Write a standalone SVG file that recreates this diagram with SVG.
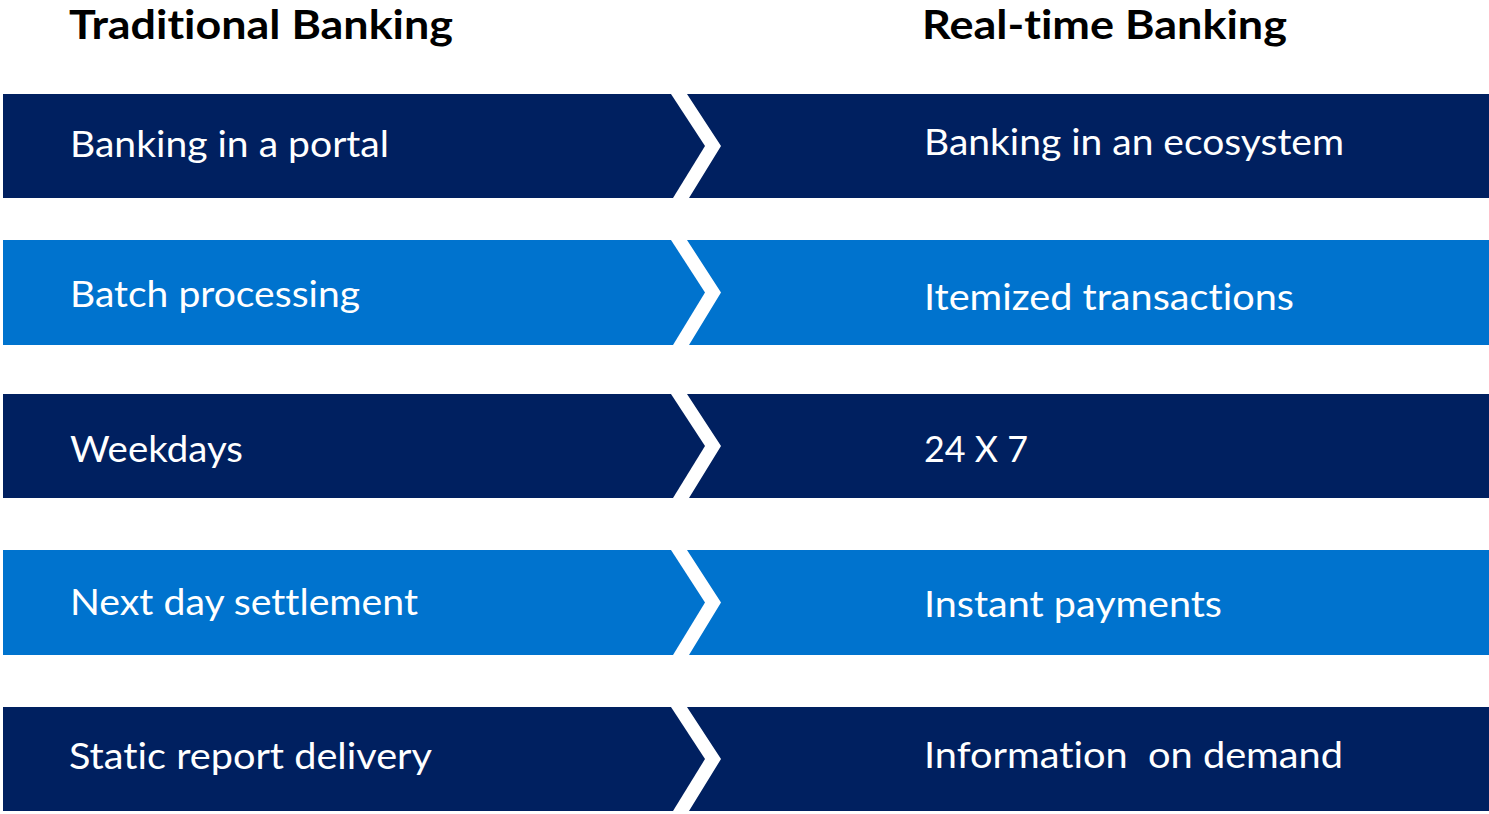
<svg xmlns="http://www.w3.org/2000/svg" width="1489" height="814" viewBox="0 0 1489 814">
<style>
  .dark { fill: #002060; }
  .light { fill: #0073CE; }
  .lbl { font-family: Lato, "Open Sans", "Liberation Sans", sans-serif; font-size: 37px; fill: #FFFFFF; white-space: pre; font-variant-ligatures: none; }
  .ttl { font-family: Lato, "Open Sans", "Liberation Sans", sans-serif; font-size: 41px; font-weight: bold; fill: #000000; font-variant-ligatures: none; }
</style>
<rect x="0" y="0" width="1489" height="814" fill="#FFFFFF"/>
<g id="titles">
  <text id="title-left" class="ttl" x="69" y="39" textLength="384" lengthAdjust="spacingAndGlyphs">Traditional Banking</text>
  <text id="title-right" class="ttl" x="922" y="39" textLength="365" lengthAdjust="spacingAndGlyphs">Real-time Banking</text>
</g>
<g id="connectors"></g>
<g id="row1-left">
  <polygon class="dark" points="3,94 671,94 705,146 673,198 3,198"/>
  <text class="lbl" x="70" y="157" textLength="319" lengthAdjust="spacingAndGlyphs">Banking in a portal</text>
</g>
<g id="row1-right">
  <polygon class="dark" points="687,94 1489,94 1489,198 689,198 721,146"/>
  <text class="lbl" x="924" y="155" textLength="420" lengthAdjust="spacingAndGlyphs">Banking in an ecosystem</text>
</g>
<g id="row2-left">
  <polygon class="light" points="3,240 671,240 705,292.5 673,345 3,345"/>
  <text class="lbl" x="70" y="307" textLength="290" lengthAdjust="spacingAndGlyphs">Batch processing</text>
</g>
<g id="row2-right">
  <polygon class="light" points="687,240 1489,240 1489,345 689,345 721,292.5"/>
  <text class="lbl" x="924" y="310" textLength="370" lengthAdjust="spacingAndGlyphs">Itemized transactions</text>
</g>
<g id="row3-left">
  <polygon class="dark" points="3,394 671,394 705,446 673,498 3,498"/>
  <text class="lbl" x="70" y="462" textLength="173" lengthAdjust="spacingAndGlyphs">Weekdays</text>
</g>
<g id="row3-right">
  <polygon class="dark" points="687,394 1489,394 1489,498 689,498 721,446"/>
  <text class="lbl" x="924" y="462" textLength="104" lengthAdjust="spacingAndGlyphs">24 X 7</text>
</g>
<g id="row4-left">
  <polygon class="light" points="3,550 671,550 705,602.5 673,655 3,655"/>
  <text class="lbl" x="70" y="615" textLength="348" lengthAdjust="spacingAndGlyphs">Next day settlement</text>
</g>
<g id="row4-right">
  <polygon class="light" points="687,550 1489,550 1489,655 689,655 721,602.5"/>
  <text class="lbl" x="924" y="617" textLength="298" lengthAdjust="spacingAndGlyphs">Instant payments</text>
</g>
<g id="row5-left">
  <polygon class="dark" points="3,707 671,707 705,759 673,811 3,811"/>
  <text class="lbl" x="69" y="769" textLength="363" lengthAdjust="spacingAndGlyphs">Static report delivery</text>
</g>
<g id="row5-right">
  <polygon class="dark" points="687,707 1489,707 1489,811 689,811 721,759"/>
  <text class="lbl" x="924" y="768" textLength="419" lengthAdjust="spacingAndGlyphs">Information  on demand</text>
</g>
</svg>
